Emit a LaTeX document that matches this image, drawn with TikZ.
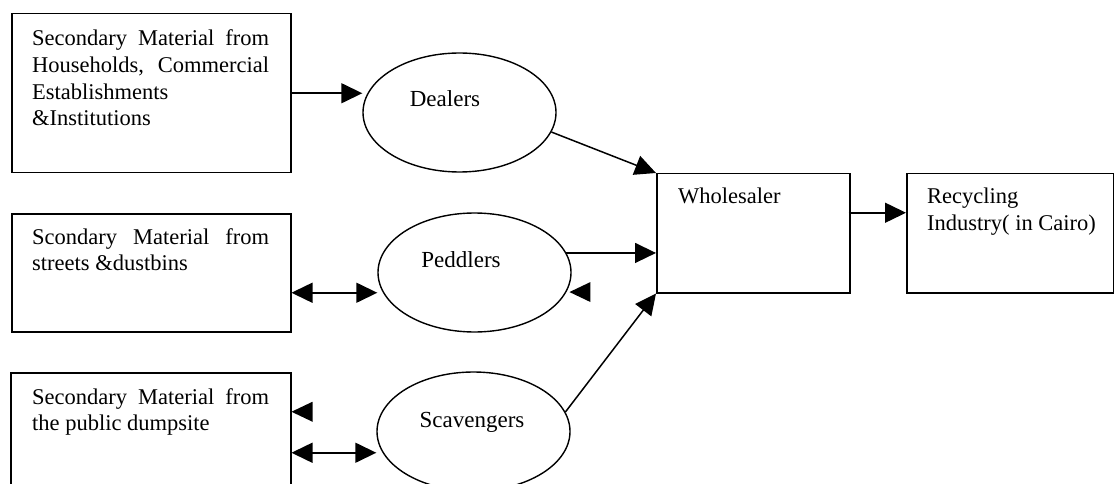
\documentclass[tikz,border=0pt]{standalone}
\usepackage{fontspec}
\setmainfont{Liberation Serif}
\usetikzlibrary{arrows.meta,calc,shapes.geometric}
\begin{document}
\begin{tikzpicture}[x=1pt,y=-1pt,
  box/.style={draw,line width=1.5pt,rectangle,inner sep=0pt,anchor=north west},
  oval/.style={draw,line width=1.4pt,ellipse,inner sep=0pt,minimum width=193pt,minimum height=119pt},
  txt/.style={inner sep=0pt,anchor=base west,font=\fontsize{22.5}{26.8}\selectfont},
  ctxt/.style={inner sep=0pt,anchor=base,font=\fontsize{23}{26.8}\selectfont},
  conn/.style={line width=1.5pt,-{Triangle[length=21pt,width=20pt]}},
  biconn/.style={line width=1.5pt,{Triangle[length=21pt,width=20pt]}-{Triangle[length=21pt,width=20pt]}},
  lonehead/.style={fill=black},
  ]
\useasboundingbox (0,0) rectangle (1114,484);
\clip (0,0) rectangle (1114,484);
\fill[white] (0,0) rectangle (1114,484);

% boxes
\node[box,minimum width=279pt,minimum height=159pt] (box1) at (11,13) {};
\node[box,minimum width=279pt,minimum height=118pt] (box2) at (11,213) {};
\node[box,minimum width=280pt,minimum height=120pt] (box3) at (10,372) {};
\node[box,minimum width=193pt,minimum height=119pt] (wholesaler) at (656,173) {};
\node[box,minimum width=207pt,minimum height=119pt] (recycling) at (906,173) {};

% ellipses
\node[oval] (dealers) at (459.5,112.5) {};
\node[oval] (peddlers) at (474.5,272.5) {};
\node[oval] (scavengers) at (473.5,431.5) {};

% texts
\node[txt] (t1) at (32,45.5) {\parbox[t]{237pt}{\makebox[237pt][s]{Secondary Material from}\\\makebox[237pt][s]{Households, Commercial}\\Establishments\\\&Institutions}};
\node[txt] (t2) at (32,244) {\parbox[t]{237pt}{\makebox[237pt][s]{Scondary Material from}\\streets \&dustbins}};
\node[txt] (t3) at (32,404) {\parbox[t]{237pt}{\makebox[237pt][s]{Secondary Material from}\\the public dumpsite}};
\node[ctxt] (tdealers) at (445,107) {Dealers};
\node[ctxt] (tpeddlers) at (461,267) {Peddlers};
\node[ctxt] (tscav) at (472,427) {Scavengers};
\node[txt] (twhole) at (678,204) {Wholesaler};
\node[txt] (trec) at (927,204) {\parbox[t]{180pt}{Recycling\\Industry( in Cairo)}};

% connectors
\draw[conn] (box1.east) -- (box1.east -| dealers.west);

\coordinate (b2a) at ($(box2.east)+(0,20)$);
\draw[biconn] (b2a) -- (b2a -| peddlers.west);

\coordinate (b3a) at ($(box3.east)+(0,20)$);
\draw[biconn] (b3a) -- (b3a -| scavengers.west);

\draw[conn] (dealers.-12) -- (wholesaler.north west);
\draw[conn] (peddlers.12) -- (peddlers.12 -| wholesaler.west);
\draw[conn] (scavengers.12) -- (wholesaler.south west);

\coordinate (w1) at ($(wholesaler.east)+(-2,-20.5)$);
\draw[conn] (w1) -- (w1 -| recycling.west);

% lone arrowheads
\coordinate (b3b) at ($(box3.east)+(0,-21)$);
\fill[lonehead] (b3b) -- ++(21,-10) -- ++(0,20) -- cycle;
\coordinate (pl) at ($(peddlers.-12)+(3,0)$);
\fill[lonehead] (pl) -- ++(21,-10) -- ++(0,20) -- cycle;
\end{tikzpicture}
\end{document}
